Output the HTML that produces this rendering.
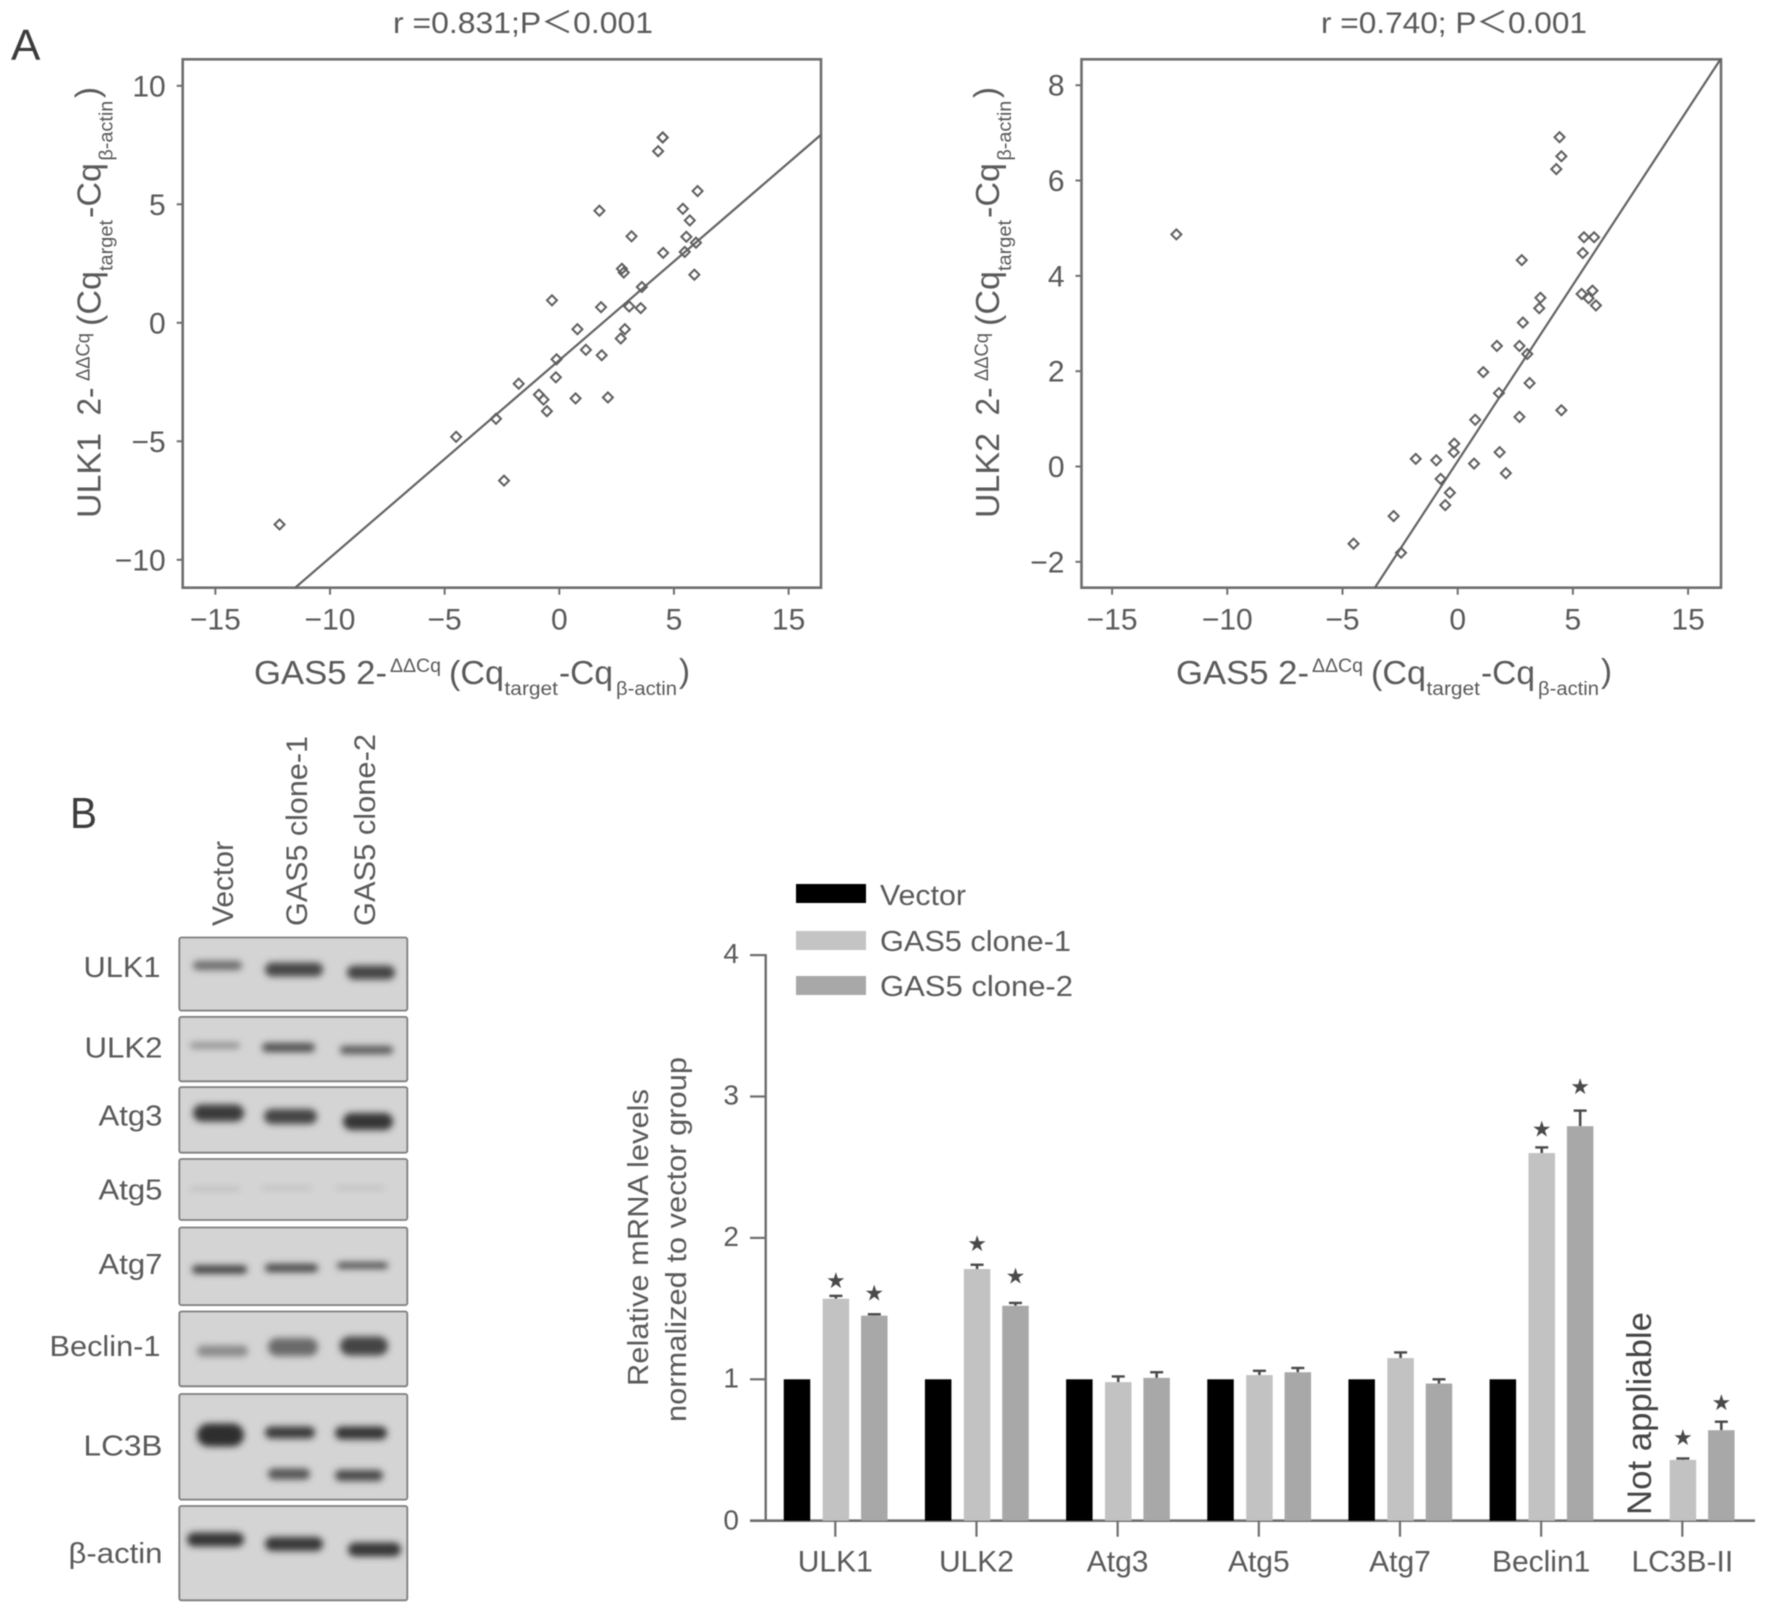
<!DOCTYPE html>
<html lang="en">
<head>
<meta charset="utf-8">
<title>GAS5 correlation with ULK1, ULK2 and autophagy markers</title>
<style>
html,body{margin:0;padding:0;background:#fff;width:1772px;height:1623px;overflow:hidden}
svg{display:block;filter:blur(.6px)}
text{font-family:"Liberation Sans","Noto Sans CJK SC",sans-serif;fill:#5a5a5a}
.lg{font-size:33px}.sm{font-size:19px}.tk{font-size:30px}.pn{font-size:44px;fill:#3c3c3c}
</style>
</head>
<body>
<svg id="fig" xmlns="http://www.w3.org/2000/svg" width="1772" height="1623" viewBox="0 0 1772 1623">
<defs>
<filter id="bandBlur" x="-30%" y="-200%" width="160%" height="500%"><feGaussianBlur stdDeviation="3.4"/></filter>
<clipPath id="clipA"><rect x="182.7" y="59" width="638.3" height="529"/></clipPath>
<clipPath id="clipB"><rect x="1081.5" y="59" width="639.5" height="529"/></clipPath>
</defs>
<rect width="1772" height="1623" fill="#fff"/>

<text class="pn" x="11" y="60">A</text>
<text class="pn" x="70" y="828" textLength="27" lengthAdjust="spacingAndGlyphs">B</text>

<text x="393" y="33" style="font-size:30px" textLength="260" lengthAdjust="spacingAndGlyphs">r =0.831;P＜0.001</text>
<text x="1321" y="33" style="font-size:30px" textLength="266" lengthAdjust="spacingAndGlyphs">r =0.740; P＜0.001</text>

<g>
<text class="lg" x="254" y="684" textLength="133" lengthAdjust="spacingAndGlyphs">GAS5 2-</text>
<text class="sm" x="390" y="672" textLength="51" lengthAdjust="spacingAndGlyphs">ΔΔCq</text>
<text class="lg" x="449" y="684" textLength="55" lengthAdjust="spacingAndGlyphs">(Cq</text>
<text class="sm" x="504.5" y="695" textLength="53.5" lengthAdjust="spacingAndGlyphs">target</text>
<text class="lg" x="559" y="684" textLength="54" lengthAdjust="spacingAndGlyphs">-Cq</text>
<text class="sm" x="616" y="695" textLength="61" lengthAdjust="spacingAndGlyphs">β-actin</text>
<text class="lg" x="679" y="682">)</text>
</g>
<g transform="translate(922,0)">
<text class="lg" x="254" y="684" textLength="133" lengthAdjust="spacingAndGlyphs">GAS5 2-</text>
<text class="sm" x="390" y="672" textLength="51" lengthAdjust="spacingAndGlyphs">ΔΔCq</text>
<text class="lg" x="449" y="684" textLength="55" lengthAdjust="spacingAndGlyphs">(Cq</text>
<text class="sm" x="504.5" y="695" textLength="53.5" lengthAdjust="spacingAndGlyphs">target</text>
<text class="lg" x="559" y="684" textLength="54" lengthAdjust="spacingAndGlyphs">-Cq</text>
<text class="sm" x="616" y="695" textLength="61" lengthAdjust="spacingAndGlyphs">β-actin</text>
<text class="lg" x="679" y="682">)</text>
</g>
<g transform="translate(100.6,0) rotate(-90)">
<text class="lg" x="-518" y="0" textLength="85" lengthAdjust="spacingAndGlyphs">ULK1</text>
<text class="lg" x="-415.5" y="0" textLength="28" lengthAdjust="spacingAndGlyphs">2-</text>
<text class="sm" x="-381" y="-11" textLength="48" lengthAdjust="spacingAndGlyphs">ΔΔCq</text>
<text class="lg" x="-326" y="0" textLength="55" lengthAdjust="spacingAndGlyphs">(Cq</text>
<text class="sm" x="-271" y="12" textLength="51" lengthAdjust="spacingAndGlyphs">target</text>
<text class="lg" x="-218" y="0" textLength="55" lengthAdjust="spacingAndGlyphs">-Cq</text>
<text class="sm" x="-160.7" y="12" textLength="60" lengthAdjust="spacingAndGlyphs">β-actin</text>
<text class="lg" x="-98" y="-2">)</text>
</g>
<g transform="translate(999,0) rotate(-90)">
<text class="lg" x="-518" y="0" textLength="85" lengthAdjust="spacingAndGlyphs">ULK2</text>
<text class="lg" x="-415.5" y="0" textLength="28" lengthAdjust="spacingAndGlyphs">2-</text>
<text class="sm" x="-381" y="-11" textLength="48" lengthAdjust="spacingAndGlyphs">ΔΔCq</text>
<text class="lg" x="-326" y="0" textLength="55" lengthAdjust="spacingAndGlyphs">(Cq</text>
<text class="sm" x="-271" y="12" textLength="51" lengthAdjust="spacingAndGlyphs">target</text>
<text class="lg" x="-218" y="0" textLength="55" lengthAdjust="spacingAndGlyphs">-Cq</text>
<text class="sm" x="-160.7" y="12" textLength="60" lengthAdjust="spacingAndGlyphs">β-actin</text>
<text class="lg" x="-98" y="-2">)</text>
</g>

<g id="scatterA"></g>
<g id="scatterB"></g>
<g id="blot"></g>
<g id="bars"></g>

<g>
<text transform="translate(233,926) rotate(-90)" style="font-size:30px" textLength="85" lengthAdjust="spacingAndGlyphs">Vector</text>
<text transform="translate(307,926) rotate(-90)" style="font-size:30px" textLength="190" lengthAdjust="spacingAndGlyphs">GAS5 clone-1</text>
<text transform="translate(375,926) rotate(-90)" style="font-size:30px" textLength="192" lengthAdjust="spacingAndGlyphs">GAS5 clone-2</text>
</g>

<g>
<rect x="796" y="884" width="70" height="19" fill="#000"/>
<rect x="796" y="931" width="70" height="19" fill="#c4c4c4"/>
<rect x="796" y="976" width="70" height="19" fill="#a8a8a8"/>
<text x="880" y="905" style="font-size:29px" textLength="86" lengthAdjust="spacingAndGlyphs">Vector</text>
<text x="880" y="951" style="font-size:29px" textLength="191" lengthAdjust="spacingAndGlyphs">GAS5 clone-1</text>
<text x="880" y="996" style="font-size:29px" textLength="193" lengthAdjust="spacingAndGlyphs">GAS5 clone-2</text>
</g>
<g>
<text transform="translate(648,1386) rotate(-90)" style="font-size:29px" textLength="297" lengthAdjust="spacingAndGlyphs">Relative mRNA levels</text>
<text transform="translate(686,1422) rotate(-90)" style="font-size:29px" textLength="365" lengthAdjust="spacingAndGlyphs">normalized to vector group</text>
</g>
<text transform="translate(1651,1515) rotate(-90)" style="font-size:34px;fill:#454545" textLength="203" lengthAdjust="spacingAndGlyphs">Not appliable</text>
</svg>

<script>
// Panel A, left scatter: GAS5 vs ULK1
const gas5ForUlk1 = [-12.2,-4.5,-2.76,-2.41,-1.77,-0.89,-0.69,-0.54,-0.32,-0.15,-0.12,0.71,0.79,1.16,1.75,1.82,1.85,2.12,2.68,2.73,2.81,2.86,3.05,3.15,3.55,3.6,4.31,4.51,4.51,4.53,5.39,5.47,5.54,5.69,5.89,5.96,6.03];
const ulk1Values = [-8.51,-4.81,-4.05,-6.66,-2.57,-3.03,-3.24,-3.73,0.95,-2.3,-1.54,-3.19,-0.27,-1.14,4.73,0.66,-1.37,-3.15,-0.66,2.28,2.12,-0.27,0.69,3.65,0.62,1.51,7.24,7.82,7.82,2.95,4.81,2.99,3.63,4.32,2.03,3.38,5.56];
// Panel A, right scatter: GAS5 vs ULK2
const gas5ForUlk2 = [-12.21,-4.52,-2.78,-2.46,-1.82,-0.93,-0.74,-0.54,-0.34,-0.17,-0.15,0.71,0.76,1.11,1.7,1.79,1.82,2.09,2.68,2.68,2.78,2.83,3.02,3.12,3.54,3.59,4.28,4.42,4.5,4.5,5.38,5.43,5.48,5.68,5.85,5.92,6.0];
const ulk2Values = [4.87,-1.62,-1.04,-1.81,0.16,0.13,-0.26,-0.81,-0.55,0.3,0.48,0.06,0.98,1.98,2.53,1.54,0.3,-0.14,1.04,2.53,4.33,3.02,2.36,1.75,3.32,3.54,6.24,6.91,6.51,1.18,3.62,4.48,4.81,3.53,3.69,4.81,3.38];
const fitUlk1 = [0.8335,-1.578];
const fitUlk2 = [0.7392,0.1137];
const scatterXTicks = [-15,-10,-5,0,5,10];
const scatterXTickLabels = ['−15','−10','−5','0','5','15'];
const ulk1YTicks = [10,5,0,-5,-10];
const ulk1YTickLabels = ['10','5','0','−5','−10'];
const ulk2YTicks = [8,6,4,2,0,-2];
const ulk2YTickLabels = ['8','6','4','2','0','−2'];

// Panel B, bar chart
const barCategories = ['ULK1','ULK2','Atg3','Atg5','Atg7','Beclin1','LC3B-II'];
const vectorBars = [1,1,1,1,1,1,null];
const clone1Bars = [1.57,1.78,0.98,1.03,1.15,2.6,0.43];
const clone2Bars = [1.45,1.52,1.01,1.05,0.97,2.79,0.64];
const clone1ErrTop = [1.59,1.81,1.02,1.06,1.19,2.64,0.44];
const clone2ErrTop = [1.46,1.54,1.05,1.08,1.0,2.9,0.7];
const clone1Stars = [1.70,1.96,null,null,null,2.77,0.587];
const clone2Stars = [1.61,1.73,null,null,null,3.07,0.835];
const barYTicks = [0,1,2,3,4];

// Western blot labels
const blotLabels = ['ULK1','ULK2','Atg3','Atg5','Atg7','Beclin-1','LC3B','β-actin'];

const NS = 'http://www.w3.org/2000/svg';
function mk(parent, tag, attrs, txt){
  const e = document.createElementNS(NS, tag);
  for (const k in attrs) e.setAttribute(k, attrs[k]);
  if (txt !== undefined) e.textContent = txt;
  parent.appendChild(e);
  return e;
}
const AXIS = '#6e6e6e';

function drawScatter(g, cfg){
  const sx = v => cfg.x0 + v * cfg.kx;
  const sy = v => cfg.y0 - v * cfg.ky;
  const frame = mk(g,'rect',{x:cfg.l,y:cfg.t,width:cfg.r-cfg.l,height:cfg.b-cfg.t,fill:'none',stroke:AXIS,'stroke-width':2.6});
  
  
  cfg.xt.forEach((v,i)=>{
    const t = mk(g,'line',{x1:sx(v),x2:sx(v),y1:cfg.b,y2:cfg.b+7,stroke:AXIS,'stroke-width':2});
    
    
    const l = mk(g,'text',{x:sx(v),y:629.5,'text-anchor':'middle',class:'tk'},cfg.xl[i]);
    
    
  });
  cfg.yt.forEach((v,i)=>{
    const t = mk(g,'line',{x1:cfg.l-6,x2:cfg.l,y1:sy(v),y2:sy(v),stroke:AXIS,'stroke-width':2});
    
    
    const l = mk(g,'text',{x:cfg.l-17,y:sy(v)+10.5,'text-anchor':'end',class:'tk'},cfg.yl[i]);
    
    
  });
  const fx0 = -20, fx1 = 20;
  const fit = mk(g,'line',{x1:sx(fx0),y1:sy(cfg.fit[0]*fx0+cfg.fit[1]),x2:sx(fx1),y2:sy(cfg.fit[0]*fx1+cfg.fit[1]),stroke:'#636363','stroke-width':2.2,'clip-path':'url(#'+cfg.clip+')'});
  
  
  cfg.xs.forEach((v,i)=>{
    const cx = sx(v), cy = sy(cfg.ys[i]);
    const p = mk(g,'polygon',{points:[[cx-5,cy],[cx,cy-5],[cx+5,cy],[cx,cy+5]].join(' '),fill:'none',stroke:'#5e5e5e','stroke-width':2});
    
    
  });
}
drawScatter(document.getElementById('scatterA'),{x0:559.3,kx:22.93,y0:322.8,ky:23.7,l:182.7,r:821,t:59.3,b:587.7,
  xt:scatterXTicks,xl:scatterXTickLabels,yt:ulk1YTicks,yl:ulk1YTickLabels,xs:gas5ForUlk1,ys:ulk1Values,fit:fitUlk1,clip:'clipA'});
drawScatter(document.getElementById('scatterB'),{x0:1457.7,kx:23.04,y0:466.5,ky:47.66,l:1081.5,r:1721,t:59.3,b:587.7,
  xt:scatterXTicks,xl:scatterXTickLabels,yt:ulk2YTicks,yl:ulk2YTickLabels,xs:gas5ForUlk2,ys:ulk2Values,fit:fitUlk2,clip:'clipB'});

// Western blot
const blot = document.getElementById('blot');
const panelEdges = [[937.5,1010.6],[1016.9,1081.3],[1087.1,1152.7],[1159,1220],[1227.5,1305.1],[1311.5,1386.3],[1394,1499.6],[1506,1600.3]];
const labelSpots = [[160.5,977],[162.5,1057.7],[162.5,1125.6],[162.5,1199.3],[162.5,1274],[160.5,1355.8],[162.5,1455.3],[162.5,1562.9]];
const labelWidths = [77,78,64,64,64,111,79,94];
panelEdges.forEach((p,i)=>{
  const r = mk(blot,'rect',{x:179.3,y:p[0],width:228,height:p[1]-p[0],rx:2,fill:'#d4d4d4',stroke:'#7e7e7e','stroke-width':1.8});
  
  
  const t = mk(blot,'text',{x:labelSpots[i][0],y:labelSpots[i][1],'text-anchor':'end',textLength:labelWidths[i],lengthAdjust:'spacingAndGlyphs',style:'font-size:29px'},blotLabels[i]);
  
  
});
const blotBands = [
 [193,242,965.5,9,'#6a6a6a'],[265,323,969.5,14,'#474747'],[347,395,972.5,14,'#454545'],
 [190,240,1045.5,6,'#8f8f8f'],[262,315,1047.5,9,'#505050'],[340,393,1050,8,'#565656'],
 [193,244,1113,17,'#3a3a3a'],[264,317,1116.5,15,'#444444'],[343,393,1121.5,17,'#343434'],
 [190,240,1189,3,'#b4b4b4'],[262,312,1188,3,'#b8b8b8'],[335,385,1188,3,'#b8b8b8'],
 [192,247,1269.5,8,'#3e3e3e'],[265,318,1268,8,'#444444'],[337,388,1265.5,6,'#444444'],
 [197,248,1351,11,'#8a8a8a'],[268,318,1347,18,'#6a6a6a'],[340,388,1346,19,'#444444'],
 [197,244,1435,23,'#2e2e2e'],[265,315,1432.5,12,'#3a3a3a'],[335,387,1433,13,'#363636'],
 [268,310,1474,11,'#555555'],[335,383,1475.5,11,'#484848'],
 [187,244,1539.5,14,'#363636'],[265,323,1544,14,'#383838'],[348,401,1549.5,14,'#383838']
];
blotBands.forEach(b=>{
  const e = mk(blot,'rect',{x:b[0],y:b[2]-b[3]/2,width:b[1]-b[0],height:b[3],rx:b[3]/2,fill:b[4],filter:'url(#bandBlur)'});
  
  
});

// Bar chart
const bars = document.getElementById('bars');
const by = v => 1520.7 - v * 141.4;
const bx = i => 835.3 + i * 141.17;
const barW = 26.5;
const yAxis = mk(bars,'line',{x1:765.7,x2:765.7,y1:by(4)-1,y2:by(0)+1,stroke:AXIS,'stroke-width':2.4});


const xAxis = mk(bars,'line',{x1:750,x2:1755,y1:by(0),y2:by(0),stroke:AXIS,'stroke-width':2.6});


barYTicks.forEach(v=>{
  const t = mk(bars,'line',{x1:750,x2:765.7,y1:by(v),y2:by(v),stroke:AXIS,'stroke-width':2.2});
  
  
  const l = mk(bars,'text',{x:739,y:by(v)+8+(v===0?1:0),'text-anchor':'end',style:'font-size:28px'},String(v));
  
  
});
function drawBar(cx, v, color, errTop, star){
  if (v === null) return;
  if (errTop !== null){
    const e = mk(bars,'line',{x1:cx,x2:cx,y1:by(v),y2:by(errTop),stroke:'#4a4a4a','stroke-width':2.6});
    
    
    const c = mk(bars,'line',{x1:cx-6.5,x2:cx+6.5,y1:by(errTop),y2:by(errTop),stroke:'#4a4a4a','stroke-width':2.4});
    
    
  }
  const r = mk(bars,'rect',{x:cx-barW/2,y:by(v),width:barW,height:by(0)-by(v),fill:color});
  
  
  if (star !== null){
    const s = mk(bars,'text',{x:cx,y:by(star)+7.5,'text-anchor':'middle',style:'font-family:\'DejaVu Sans\',sans-serif;font-size:22px;fill:#4a4a4a'},'★');
    
    
  }
}
barCategories.forEach((c,i)=>{
  const x = bx(i);
  drawBar(x-38.3, vectorBars[i], '#000', null, null);
  drawBar(x+0.6, clone1Bars[i], '#c2c2c2', clone1ErrTop[i], clone1Stars[i]);
  drawBar(x+39, clone2Bars[i], '#a8a8a8', clone2ErrTop[i], clone2Stars[i]);
  const t = mk(bars,'line',{x1:x,x2:x,y1:by(0),y2:by(0)+16,stroke:AXIS,'stroke-width':2.2});
  
  
  const l = mk(bars,'text',{x:x,y:1571.7,'text-anchor':'middle',style:'font-size:30px'},c);
  
  
});
</script>
</body>
</html>
